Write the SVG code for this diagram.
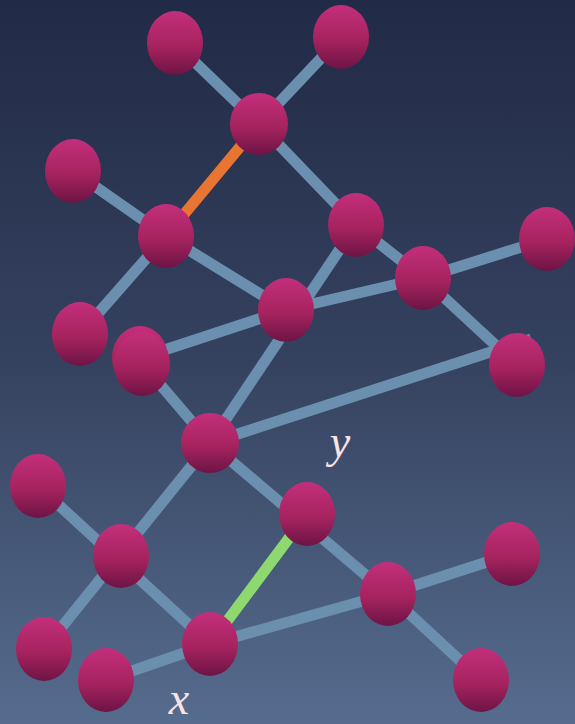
<svg xmlns="http://www.w3.org/2000/svg" width="575" height="724" viewBox="0 0 575 724">
<defs>
<linearGradient id="bg" x1="0" y1="0" x2="0" y2="1">
<stop offset="0" stop-color="#212a47"/>
<stop offset="0.5" stop-color="#35425f"/>
<stop offset="1" stop-color="#566c8e"/>
</linearGradient>
<linearGradient id="ng" x1="0" y1="0" x2="0" y2="1">
<stop offset="0" stop-color="#c32f7b"/>
<stop offset="0.55" stop-color="#a6235f"/>
<stop offset="1" stop-color="#6c1445"/>
</linearGradient>
<style>
.e{stroke:#6b8fae;stroke-width:11;fill:none}
.o{stroke:#e97532;stroke-width:11}
.g{stroke:#8dd970;stroke-width:11}
.n ellipse{fill:url(#ng)}
.lbl{font-family:"Liberation Serif",serif;font-style:italic;font-size:46px;fill:#fbe3e3;text-anchor:middle}
</style>
</defs>
<rect width="575" height="724" fill="url(#bg)"/>
<g id="connectors">
<line class="e" x1="175" y1="43" x2="259" y2="124"/>
<line class="e" x1="341" y1="37" x2="259" y2="124"/>
<line class="e" x1="259" y1="124" x2="356" y2="225"/>
<line class="e" x1="73" y1="171" x2="166" y2="236"/>
<line class="e" x1="166" y1="236" x2="80" y2="334"/>
<line class="e" x1="166" y1="236" x2="286" y2="310"/>
<line class="e" x1="356" y1="225" x2="423" y2="278"/>
<line class="e" x1="356" y1="225" x2="210" y2="443"/>
<line class="e" x1="423" y1="278" x2="547" y2="239"/>
<line class="e" x1="423" y1="278" x2="517" y2="365"/>
<line class="e" x1="286" y1="310" x2="423" y2="278"/>
<line class="e" x1="140" y1="358" x2="286" y2="310"/>
<line class="e" x1="141" y1="362" x2="210" y2="443"/>
<line class="e" x1="210" y1="443" x2="531" y2="339"/>
<line class="e" x1="210" y1="443" x2="388" y2="594"/>
<line class="e" x1="210" y1="443" x2="44" y2="649"/>
<line class="e" x1="38" y1="486" x2="210" y2="644"/>
<line class="e" x1="210" y1="644" x2="106" y2="680"/>
<line class="e" x1="210" y1="644" x2="388" y2="594"/>
<line class="e" x1="388" y1="594" x2="512" y2="554"/>
<line class="e" x1="388" y1="594" x2="481" y2="680"/>
<line class="o" x1="259" y1="124" x2="166" y2="236"/>
<line class="g" x1="307" y1="514" x2="210" y2="644"/>
</g>
<g class="n">
<g id="n1"><ellipse cx="175" cy="43" rx="28" ry="32"/></g>
<g id="n2"><ellipse cx="341" cy="37" rx="28" ry="32"/></g>
<g id="n3"><ellipse cx="259" cy="124" rx="29" ry="31"/></g>
<g id="n4"><ellipse cx="73" cy="171" rx="28" ry="32"/></g>
<g id="n5"><ellipse cx="166" cy="236" rx="28" ry="32"/></g>
<g id="n6"><ellipse cx="356" cy="225" rx="28" ry="32"/></g>
<g id="n7"><ellipse cx="547" cy="239" rx="28" ry="32"/></g>
<g id="n8"><ellipse cx="423" cy="278" rx="28" ry="32"/></g>
<g id="n9"><ellipse cx="286" cy="310" rx="28" ry="32"/></g>
<g id="n10"><ellipse cx="80" cy="334" rx="28" ry="32"/></g>
<g id="n11a"><ellipse cx="140" cy="358" rx="28" ry="32"/></g>
<g id="n11b"><ellipse cx="142" cy="364" rx="28" ry="32"/></g>
<g id="n12"><ellipse cx="517" cy="365" rx="28" ry="32"/></g>
<g id="n13"><ellipse cx="210" cy="443" rx="29" ry="30"/></g>
<g id="n14"><ellipse cx="38" cy="486" rx="28" ry="32"/></g>
<g id="n15"><ellipse cx="307" cy="514" rx="28" ry="32"/></g>
<g id="n16"><ellipse cx="121" cy="556" rx="28" ry="32"/></g>
<g id="n17"><ellipse cx="512" cy="554" rx="28" ry="32"/></g>
<g id="n18"><ellipse cx="388" cy="594" rx="28" ry="32"/></g>
<g id="n19"><ellipse cx="44" cy="649" rx="28" ry="32"/></g>
<g id="n20"><ellipse cx="210" cy="644" rx="28" ry="32"/></g>
<g id="n21"><ellipse cx="106" cy="680" rx="28" ry="32"/></g>
<g id="n22"><ellipse cx="481" cy="680" rx="28" ry="32"/></g>
</g>
<text class="lbl" x="340" y="457">y</text>
<text class="lbl" x="179" y="714">x</text>
</svg>
